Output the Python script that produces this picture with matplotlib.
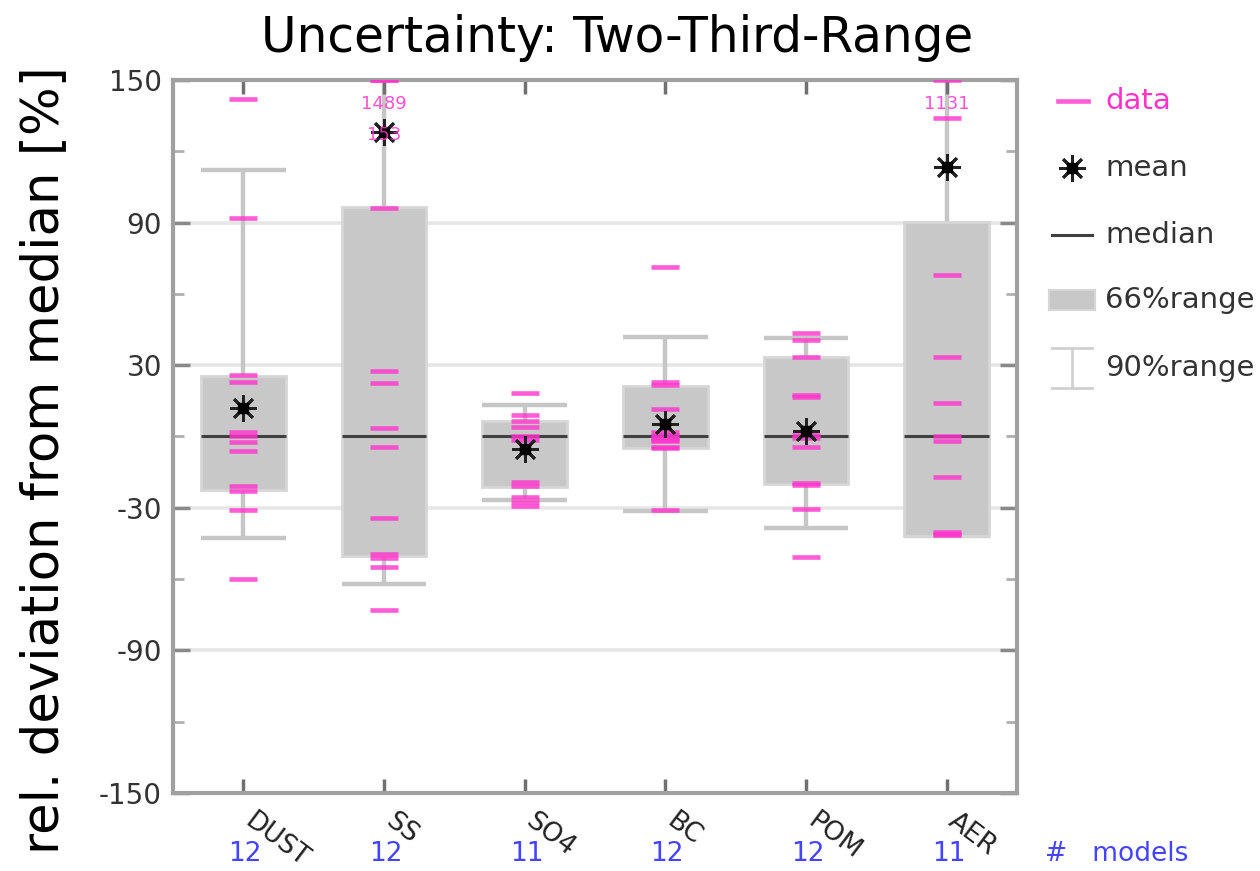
import numpy as np
import matplotlib
matplotlib.use("Agg")
import matplotlib.pyplot as plt
from matplotlib.patches import Rectangle

# ---- data -----------------------------------------------------------------
categories = ["DUST", "SS", "SO4", "BC", "POM", "AER"]
n_models = [12, 12, 11, 12, 12, 11]

# 66% range (box) and 90% range (whiskers), relative deviation from median [%]
box_low = [-22.6, -50.4, -21.3, -5.0, -19.9, -42.0]
box_high = [25.5, 96.5, 6.5, 21.3, 33.3, 90.2]
whisker_low = [-42.7, -62.1, -26.9, -31.4, -38.5, -42.0]
whisker_high = [112.0, 160.0, 13.3, 42.0, 41.3, 160.0]
mean_vals = [12.2, 128.0, -5.4, 5.1, 2.3, 113.2]
median_vals = [0.0, 0.0, 0.0, 0.0, 0.0, 0.0]

# individual model values
dust_data = [142, 92, 26, 23, 2, 0, -2.5, -6, -21, -23, -31, -60]
ss_data = [1489, 153, 96, 27.6, 22.7, 3.7, -4.4, -34.3, -49.5, -51, -55, -72.9]
so4_data = [18.5, 9, 6.5, 4, 0, -1.5, -19, -21, -25.5, -27.5, -29.3]
bc_data = [71.5, 23, 21.5, 11.5, 2, 0.5, -0.5, -1.5, -2, -4.5, -5, -31]
pom_data = [43.4, 40.6, 33.5, 17.5, 16.5, 0.5, -0.5, -4.4, -19.5, -20.5, -30.5, -50.8]
aer_data = [1131, 134, 68, 33.5, 14.3, 0, -2, -17.1, -40, -41.5, -41]
model_data = [dust_data, ss_data, so4_data, bc_data, pom_data, aer_data]

yticks_major = [-150, -90, -30, 30, 90, 150]
yticks_minor = [-120, -60, 0, 60, 120]
YMIN, YMAX = -150, 150

# ---- style ----------------------------------------------------------------
PINK = "#ff33cc"
BOX_FILL = "#c8c8c8"
BOX_EDGE = "#d6d6d6"
WHISK = "#c6c6c6"
FRAME = "#a0a0a0"
BLUE = "#4444ff"
TXT = "#333333"

fig = plt.figure(figsize=(12.6, 8.71), dpi=100)
ax = fig.add_axes([173 / 1260, 1 - 793 / 871, (1017 - 173) / 1260, (793 - 80) / 871])

x = np.arange(1, len(categories) + 1)
box_w = 0.6
mark_w = 0.2

ax.set_xlim(0.5, len(categories) + 0.5)
ax.set_ylim(YMIN, YMAX)

# grid
for g in yticks_major:
    ax.axhline(g, color="#e6e6e6", lw=2.6, zorder=0)

for i, xi in enumerate(x):
    # whiskers (90% range)
    ax.plot([xi, xi], [whisker_low[i], box_low[i]], color=WHISK, lw=3.2, zorder=1, solid_capstyle="butt")
    ax.plot([xi, xi], [box_high[i], whisker_high[i]], color=WHISK, lw=3.2, zorder=1, solid_capstyle="butt")
    for wv in (whisker_low[i], whisker_high[i]):
        ax.plot([xi - box_w / 2, xi + box_w / 2], [wv, wv], color=WHISK, lw=3.2, zorder=1,
                solid_capstyle="butt")
    # box (66% range)
    ax.add_patch(Rectangle((xi - box_w / 2, box_low[i]), box_w, box_high[i] - box_low[i],
                           facecolor=BOX_FILL, edgecolor=BOX_EDGE, lw=2, zorder=2))
    # median
    ax.plot([xi - box_w / 2, xi + box_w / 2], [median_vals[i]] * 2, color="#404040", lw=2.2, zorder=3,
            solid_capstyle="butt")
    # individual models
    vals = np.asarray(model_data[i], dtype=float)
    shown = np.clip(vals, YMIN, YMAX)
    for v in shown:
        ax.plot([xi - mark_w / 2, xi + mark_w / 2], [v, v], color=PINK, lw=3.3, alpha=0.8, zorder=4,
                solid_capstyle="butt")
    # values outside the axis range are written out below the top edge
    off = sorted(vals[vals > YMAX], reverse=True)
    for k, v in enumerate(off):
        ax.text(xi, YMAX - 10 - 13 * k, f"{int(v)}", color=PINK, ha="center", va="center",
                fontsize=13, alpha=0.85, zorder=6)
    # mean
    ax.plot(xi, mean_vals[i], marker=(8, 2, 0), ms=19, mew=2.0, color="#222222", zorder=5)
    ax.plot(xi, mean_vals[i], marker="s", ms=7, color="black", zorder=5)

# frame and ticks
for s in ax.spines.values():
    s.set_color(FRAME)
    s.set_linewidth(3)
ax.set_yticks(yticks_major)
ax.set_yticklabels([str(t) for t in yticks_major], fontsize=20, color=TXT)
ax.set_yticks(yticks_minor, minor=True)
ax.tick_params(axis="y", which="major", direction="in", length=12, width=2.5, color="#8a8a8a",
               left=True, right=True, pad=8)
ax.tick_params(axis="y", which="minor", direction="in", length=8, width=2, color="#b0b0b0",
               left=True, right=True)
ax.set_xticks(x)
ax.tick_params(axis="x", direction="in", length=10, width=2.5, color="#707070",
               top=True, bottom=True, labelbottom=False)

# category names and model counts below the axis
for i, xi in enumerate(x):
    xpix = ax.transData.transform((xi, 0))[0]
    fig.text((xpix + 12) / 1260, 1 - 808 / 871, categories[i], rotation=-37, rotation_mode="anchor",
             ha="left", va="top", fontsize=19, color="#222222")
    fig.text((xpix + 2) / 1260, 1 - 854 / 871, str(n_models[i]), ha="center", va="center",
             fontsize=19, color=BLUE)
fig.text(1045 / 1260, 1 - 854 / 871, "#   models", ha="left", va="center", fontsize=19, color=BLUE)

# title and y label
fig.text(617 / 1260, 1 - 38 / 871, "Uncertainty: Two-Third-Range", ha="center", va="center",
         fontsize=35, color="black")
fig.text(44 / 1260, 1 - 460 / 871, "rel. deviation from median [%]", rotation=90, ha="center",
         va="center", fontsize=37, color="black")

# legend, drawn in figure pixel space
lg = fig.add_axes([0, 0, 1, 1], facecolor="none")
lg.set_xlim(0, 1260)
lg.set_ylim(871, 0)
lg.axis("off")
lg.plot([1058, 1088], [101, 101], color=PINK, lw=3.3, alpha=0.8)
lg.text(1105, 101, "data", color=PINK, fontsize=21, va="center", ha="left")
lg.plot(1072, 168, marker=(8, 2, 0), ms=19, mew=2.0, color="#222222")
lg.plot(1072, 168, marker="s", ms=7, color="black")
lg.text(1105, 168, "mean", color=TXT, fontsize=21, va="center", ha="left")
lg.plot([1052, 1092], [235, 235], color="#404040", lw=2.2)
lg.text(1105, 235, "median", color=TXT, fontsize=21, va="center", ha="left")
lg.add_patch(Rectangle((1049, 290), 46, 20, facecolor=BOX_FILL, edgecolor=BOX_EDGE, lw=1.5))
lg.text(1105, 300, "66%range", color=TXT, fontsize=21, va="center", ha="left")
lg.plot([1052, 1092], [348, 348], color="#d0d0d0", lw=2)
lg.plot([1052, 1092], [388, 388], color="#d0d0d0", lw=2)
lg.plot([1072, 1072], [348, 388], color="#d0d0d0", lw=2)
lg.text(1105, 368, "90%range", color=TXT, fontsize=21, va="center", ha="left")

fig.savefig("out.png", dpi=100)
